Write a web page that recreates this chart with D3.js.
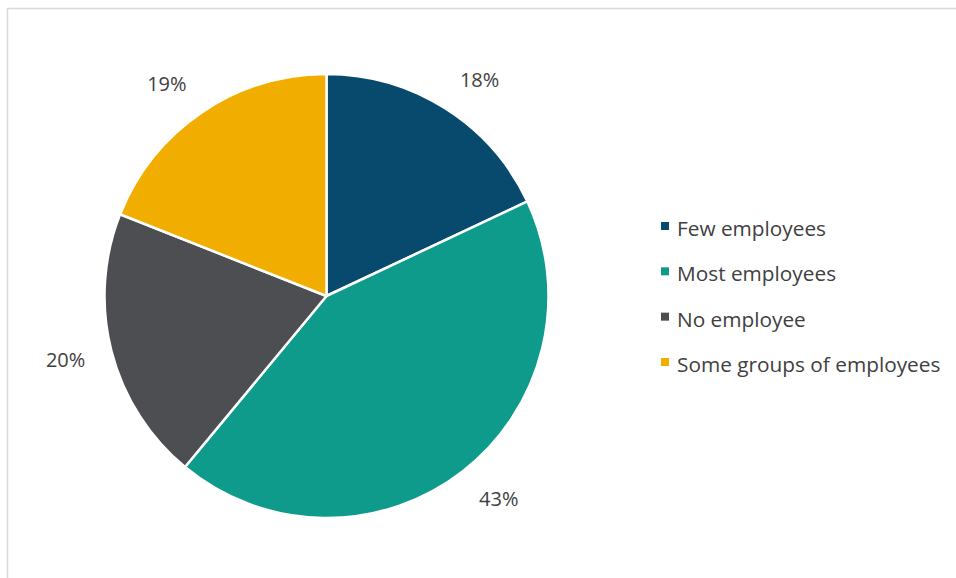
<!DOCTYPE html>
<html>
<head>
<meta charset="utf-8">
<script src="https://cdn.jsdelivr.net/npm/d3@7"></script>
<style>
  html, body { margin: 0; padding: 0; background: #fff; }
  svg { display: block; }
  text { font-family: "Open Sans", "Noto Sans", sans-serif; fill: #404040; }
</style>
</head>
<body>
<svg id="chart" width="956" height="578"></svg>
<script>
// Share of employees covered, by category
const categories = ["Few employees", "Most employees", "No employee", "Some groups of employees"];
const values = [18, 43, 20, 19];
const colors = ["#074a6e", "#0e9b8c", "#4d4e52", "#f2ae00"];

const svg = d3.select("#chart");
const W = 956, H = 578;

// chart frame
svg.append("rect")
  .attr("x", 7.5).attr("y", 8.5)
  .attr("width", W).attr("height", H)
  .attr("fill", "#fff")
  .attr("stroke", "#d9d9d9")
  .attr("stroke-width", 1.5);

const cx = 326.5, cy = 296, R = 222;

const pie = d3.pie().sort(null).value(d => d.value);
const data = pie(categories.map((c, i) => ({ name: c, value: values[i], color: colors[i] })));

const arc = d3.arc().innerRadius(0).outerRadius(R);
// anchor ring for the outside-end data labels
const labelR = 249;
const labelArc = d3.arc().innerRadius(labelR).outerRadius(labelR);

const g = svg.append("g").attr("transform", `translate(${cx},${cy})`);

g.selectAll("path.slice")
  .data(data)
  .enter().append("path")
  .attr("class", "slice")
  .attr("d", arc)
  .attr("fill", d => d.data.color)
  .attr("stroke", "#fff")
  .attr("stroke-width", 2.5)
  .attr("stroke-linejoin", "round");

// labels sit outside the rim: the box's near side touches the anchor point
const capH = 15;
g.selectAll("text.lbl")
  .data(data)
  .enter().append("text")
  .attr("class", "lbl")
  .each(function (d) {
    const mid = (d.startAngle + d.endAngle) / 2;
    const [ax, ay] = labelArc.centroid(d);
    d3.select(this)
      .attr("x", ax)
      .attr("y", ay - Math.cos(mid) * capH / 2)
      .attr("text-anchor", Math.sin(mid) >= 0 ? "start" : "end");
  })
  .attr("dominant-baseline", "central")
  .style("font-size", "20px")
  .text(d => d.data.value + "%");

// legend
const legendY = d3.scalePoint().domain(categories).range([226, 362]);
const legend = svg.append("g");
const items = legend.selectAll("g.item")
  .data(categories)
  .enter().append("g")
  .attr("class", "item")
  .attr("transform", d => `translate(661,${legendY(d)})`);

items.append("rect")
  .attr("x", 0).attr("y", -4)
  .attr("width", 8).attr("height", 8)
  .attr("fill", (d, i) => colors[i]);

items.append("text")
  .attr("x", 16)
  .attr("y", 2)
  .attr("dominant-baseline", "central")
  .style("font-size", "20.8px")
  .text(d => d);
</script>
</body>
</html>
